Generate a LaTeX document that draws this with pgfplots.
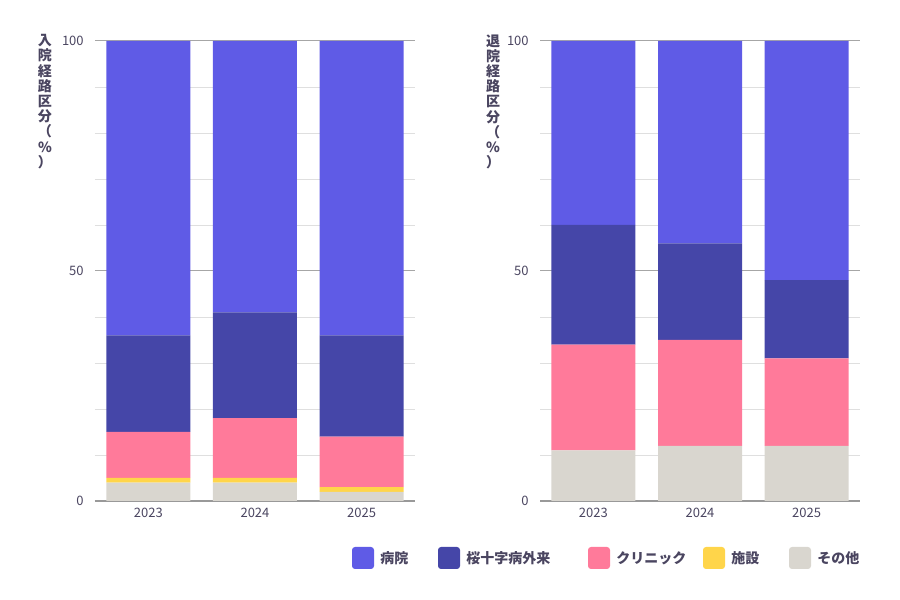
\documentclass[border=0pt]{standalone}
\usepackage{pgfplots}
\pgfplotsset{compat=1.18}
\usepackage{fontspec}
\setmainfont{Noto Sans CJK JP}
\definecolor{hosp}{HTML}{5F5BE6}
\definecolor{sakura}{HTML}{4546A8}
\definecolor{clinic}{HTML}{FF7A9A}
\definecolor{shisetsu}{HTML}{FFD54A}
\definecolor{other}{HTML}{D9D6CF}
\definecolor{txt}{HTML}{4A4560}
\pgfplotsset{
  mystyle/.style={
    ybar stacked, bar width=42pt,
    scale only axis, width=160pt, height=230pt,
    xmin=-0.5, xmax=2.5, ymin=0, ymax=100,
    xtick={0,1,2}, xticklabels={2023,2024,2025},
    ytick={0,50,100}, minor ytick={10,20,30,40,60,70,80,90},
    ymajorgrids, yminorgrids,
    major grid style={draw=gray!70, line width=0.5pt},
    minor grid style={draw=gray!25, line width=0.4pt},
    axis x line*=bottom, axis y line=left, y axis line style={draw=none},
    x axis line style={draw=gray!80, line width=0.6pt},
    tick style={draw=none},
    ticklabel style={font=\fontsize{6.5}{8}\selectfont, text=txt},
    /pgf/number format/assume math mode=true,
    every axis plot/.append style={draw=none},
    clip=false,
  }
}
\begin{document}
\begin{tikzpicture}
\path[use as bounding box] (0,0) rectangle (450pt,300pt);
\begin{axis}[mystyle, at={(47.5pt,49.5pt)}, anchor=south west]
\addplot[fill=other] coordinates {(0,4) (1,4) (2,2)};
\addplot[fill=shisetsu] coordinates {(0,1) (1,1) (2,1)};
\addplot[fill=clinic] coordinates {(0,10) (1,13) (2,11)};
\addplot[fill=sakura] coordinates {(0,21) (1,23) (2,22)};
\addplot[fill=hosp] coordinates {(0,64) (1,59) (2,64)};
\end{axis}
\begin{axis}[mystyle, at={(270pt,49.5pt)}, anchor=south west]
\addplot[fill=other] coordinates {(0,11) (1,12) (2,12)};
\addplot[fill=shisetsu] coordinates {(0,0) (1,0) (2,0)};
\addplot[fill=clinic] coordinates {(0,23) (1,23) (2,19)};
\addplot[fill=sakura] coordinates {(0,26) (1,21) (2,17)};
\addplot[fill=hosp] coordinates {(0,40) (1,44) (2,52)};
\end{axis}
\node[anchor=north, text=txt, font=\fontsize{7}{7.6}\selectfont\bfseries, align=center, inner sep=0] at (22.5pt,283pt)
  {入\\院\\経\\路\\区\\分\\（\\\%\\）};
\node[anchor=north, text=txt, font=\fontsize{7}{7.6}\selectfont\bfseries, align=center, inner sep=0] at (246.5pt,283pt)
  {退\\院\\経\\路\\区\\分\\（\\\%\\）};
\foreach \x/\c/\t in {176/hosp/病院, 219/sakura/桜十字病外来, 294/clinic/クリニック, 351.5/shisetsu/施設, 394.5/other/その他}{
  \fill[\c, rounded corners=1.5] (\x pt,15.5pt) rectangle ++(11pt,11pt);
  \node[anchor=west, text=txt, font=\fontsize{7}{8}\selectfont\bfseries, inner sep=0] at (\x pt+14pt,21pt) {\t};
}
\end{tikzpicture}
\end{document}
